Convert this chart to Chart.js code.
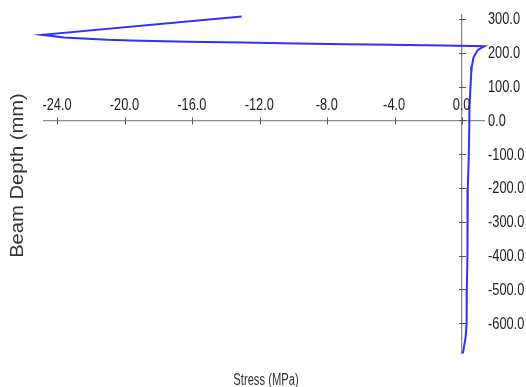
<!DOCTYPE html>
<html>
<head>
<meta charset="utf-8">
<script src="https://cdn.jsdelivr.net/npm/chart.js@4/dist/chart.umd.min.js"></script>
<style>
  html, body { margin: 0; padding: 0; background: #ffffff; overflow: hidden; }
  #wrap { position: relative; width: 526px; height: 387px; }
</style>
</head>
<body>
<div id="wrap"><canvas id="c" width="526" height="387"></canvas></div>
<script>
// Stress profile through the beam depth (stress in MPa, depth in mm)
const stress = [-13.07, -24.90, -23.62, -21.05, -19.67, -16.32, -12.99, -9.81, -6.85, -4.29, -1.15,
                1.33, 1.15, 0.92, 0.68, 0.58, 0.54, 0.49, 0.44, 0.43,
                0.40, 0.34, 0.33, 0.31, 0.28, 0.27, 0.21, 0.05];
const depth  = [307.7, 253.3, 245.6, 238.5, 236.7, 232.5, 230.8, 227.8, 225.7, 223.7, 221.9,
                219.8, 215.0, 208.0, 187.0, 160.0, 139.0, 89.6, 40.2, -8.0,
                -100, -200, -300, -400, -500, -600, -641, -689];

// Axis tick values
const stressTicks = [-24, -20, -16, -12, -8, -4, 0];
const depthTicks  = [300, 200, 100, 0, -100, -200, -300, -400, -500, -600];

const xRange = { min: -24.8, max: 1.3 };
const yRange = { min: -688, max: 312 };

const points = stress.map((s, i) => ({ x: s, y: depth[i] }));

const axisGray = '#8a8a8a';
const labelFont = "16px 'Liberation Sans', Arial, sans-serif";
const labelSquash = 0.8;   // condensed tick lettering

// Cross-shaped tick marks and tick labels for axes that cross at the origin
const originAxes = {
  id: 'originAxes',
  afterDatasetsDraw(chart) {
    const { ctx, chartArea, scales: { x, y } } = chart;
    const y0 = y.getPixelForValue(0);
    const x0 = x.getPixelForValue(0);

    ctx.save();
    ctx.strokeStyle = '#555555';
    ctx.lineWidth = 1;
    ctx.beginPath();
    x.ticks.forEach(t => {
      const px = Math.round(x.getPixelForValue(t.value)) + 0.5;
      ctx.moveTo(px, y0 - 3); ctx.lineTo(px, y0 + 4);
    });
    y.ticks.forEach(t => {
      const py = Math.round(y.getPixelForValue(t.value)) + 0.5;
      ctx.moveTo(x0 - 3, py); ctx.lineTo(x0 + 4, py);
    });
    ctx.stroke();

    ctx.fillStyle = '#222222';
    ctx.font = labelFont;
    ctx.textBaseline = 'middle';

    // stress labels sit above the horizontal axis
    ctx.textAlign = 'center';
    x.ticks.forEach(t => {
      ctx.save();
      ctx.translate(x.getPixelForValue(t.value) - 0.5, y0 - 14.5);
      ctx.scale(labelSquash, 1);
      ctx.fillText(Number(t.value).toFixed(1), 0, 0);
      ctx.restore();
    });

    // depth labels sit to the right of the plot
    ctx.textAlign = 'left';
    y.ticks.forEach(t => {
      ctx.save();
      ctx.translate(chartArea.right + 4, y.getPixelForValue(t.value) + 1);
      ctx.scale(labelSquash, 1);
      ctx.fillText(Number(t.value).toFixed(1), 0, 0);
      ctx.restore();
    });
    ctx.restore();
  }
};

// Axis titles
const axisTitles = {
  id: 'axisTitles',
  afterDraw(chart) {
    const { ctx, chartArea } = chart;
    ctx.save();
    ctx.fillStyle = '#333333';
    ctx.textAlign = 'center';
    ctx.textBaseline = 'alphabetic';

    ctx.font = "16px 'Liberation Sans', Arial, sans-serif";
    ctx.save();
    ctx.translate((chartArea.left + chartArea.right) / 2 + 2, chart.height - 2.5);
    ctx.scale(0.70, 1);
    ctx.fillText('Stress (MPa)', 0, 0);
    ctx.restore();

    ctx.font = "18px 'Liberation Sans', Arial, sans-serif";
    ctx.save();
    ctx.translate(22.7, (chartArea.top + chartArea.bottom) / 2 - 8.5);
    ctx.rotate(-Math.PI / 2);
    ctx.scale(1.12, 1);
    ctx.fillText('Beam Depth (mm)', 0, 0);
    ctx.restore();

    ctx.restore();
  }
};

new Chart(document.getElementById('c'), {
  type: 'scatter',
  data: {
    datasets: [{
      data: points,
      showLine: true,
      borderColor: '#3030ff',
      backgroundColor: '#3030ff',
      borderWidth: 2,
      pointRadius: 0,
      tension: 0,
      clip: false
    }]
  },
  options: {
    responsive: false,
    animation: false,
    devicePixelRatio: 1,
    layout: { padding: { left: 44, right: 42, top: 15, bottom: 34 } },
    plugins: { legend: { display: false }, tooltip: { enabled: false } },
    scales: {
      x: {
        type: 'linear',
        min: xRange.min, max: xRange.max,
        position: { y: 0 },
        afterBuildTicks: s => { s.ticks = stressTicks.map(v => ({ value: v })); },
        grid: { display: false, drawTicks: false },
        border: { display: true, color: axisGray, width: 1.3 },
        ticks: { display: false }
      },
      y: {
        type: 'linear',
        min: yRange.min, max: yRange.max,
        position: { x: 0 },
        afterBuildTicks: s => { s.ticks = depthTicks.map(v => ({ value: v })); },
        grid: { display: false, drawTicks: false },
        border: { display: true, color: axisGray, width: 1.3 },
        ticks: { display: false }
      }
    }
  },
  plugins: [originAxes, axisTitles]
});
</script>
</body>
</html>
